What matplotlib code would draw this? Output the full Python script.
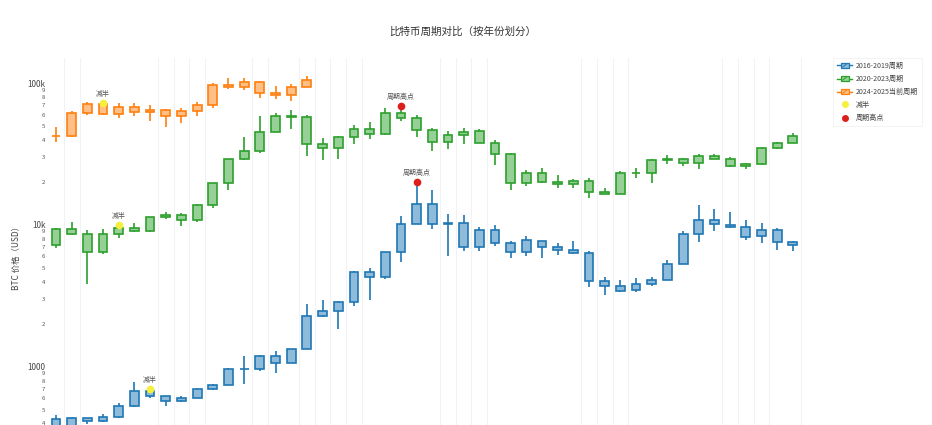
import matplotlib
matplotlib.use("Agg")
import matplotlib.pyplot as plt
import numpy as np
from matplotlib.legend_handler import HandlerBase
from matplotlib.patches import Rectangle
from matplotlib.lines import Line2D
from matplotlib.ticker import LogLocator, FuncFormatter

plt.rcParams['font.family'] = ['Noto Sans CJK SC', 'DejaVu Sans']

# ---- monthly BTC OHLC, cycle 1: 2016-01 .. 2019-12 ----
c1_open = [430, 369, 437, 416, 448, 531, 673, 624, 575, 609, 701, 746,
           964, 971, 1190, 1071, 1348, 2287, 2480, 2875, 4703, 4338, 6468, 10233,
           14112, 10237, 10385, 7003, 9251, 7500, 6411, 7769, 7044, 6619, 6318, 4025,
           3746, 3460, 3853, 4105, 5351, 8573, 10818, 10077, 9630, 8299, 9193, 7571]
c1_high = [462, 448, 439, 467, 554, 778, 705, 627, 628, 714, 753, 979,
           1191, 1211, 1291, 1348, 2763, 2980, 2916, 4770, 4975, 6470, 11517, 20089,
           17712, 11958, 11710, 9745, 9964, 7754, 8424, 7770, 7410, 7680, 6553, 4309,
           4110, 4210, 4296, 5643, 9074, 13796, 12925, 12274, 10898, 10370, 9506, 7743]
c1_low = [350, 366, 394, 412, 436, 526, 606, 533, 570, 604, 691, 746,
          755, 935, 901, 1062, 1348, 2235, 1837, 2670, 2951, 4150, 5519, 10834,
          9402, 6048, 6600, 6526, 7090, 5826, 6071, 5880, 6111, 6205, 3652, 3191,
          3400, 3400, 3734, 4097, 5333, 7564, 9113, 9467, 7830, 7446, 6617, 6540]
c1_close = [369, 437, 416, 448, 531, 673, 624, 575, 609, 701, 746, 964,
            971, 1190, 1071, 1348, 2287, 2480, 2875, 4703, 4338, 6468, 10233, 14156,
            10221, 10397, 6973, 9240, 7494, 6404, 7780, 7037, 6625, 6317, 4017, 3742,
            3457, 3854, 4105, 5351, 8574, 10817, 10086, 9631, 8294, 9199, 7569, 7194]

# ---- cycle 2: 2020-01 .. 2023-12 ----
c2_open = [7194, 9346, 8600, 6438, 8672, 9463, 9145, 11322, 11680, 10796, 13781, 19633,
           28995, 33115, 45160, 58926, 57826, 37294, 35035, 41461, 47100, 43817, 61320, 57001,
           46311, 38481, 43194, 45554, 37713, 31792, 19820, 23336, 20050, 19417, 20495, 17168,
           16548, 23138, 23150, 28478, 29268, 27219, 30472, 29230, 25931, 26967, 34668, 37718]
c2_high = [9553, 10500, 9168, 9440, 10067, 10380, 11435, 12359, 12067, 14029, 19749, 29245,
           41946, 58330, 61683, 64864, 59519, 41295, 42235, 50482, 52853, 66930, 68789, 59041,
           47882, 45661, 48086, 47313, 39845, 31957, 24572, 25135, 22673, 20988, 21446, 18318,
           23920, 25135, 29159, 30977, 29820, 31390, 31815, 30176, 27459, 35150, 38415, 44705]
c2_low = [6915, 8470, 3858, 6202, 8117, 8976, 8977, 10989, 9916, 10416, 13243, 17619,
          28722, 32384, 45115, 47159, 30681, 28806, 29360, 37458, 40191, 43320, 53569, 42000,
          33184, 34459, 37260, 37702, 26350, 17708, 18966, 19600, 18290, 18310, 15599, 16398,
          16521, 21400, 19628, 27070, 25878, 24797, 28934, 25409, 24930, 26560, 34100, 37629]
c2_close = [9350, 8599, 6438, 8658, 9462, 9137, 11323, 11681, 10785, 13781, 19626, 29002,
            33142, 45137, 58919, 57750, 37332, 35041, 41626, 47166, 43791, 61318, 57006, 46306,
            38483, 43194, 45538, 37714, 31792, 19785, 23336, 20050, 19432, 20495, 17168, 16548,
            23139, 23147, 28478, 29268, 27219, 30477, 29230, 25931, 26967, 34668, 37712, 42265]

# ---- cycle 3: 2024-01 .. 2025-05 ----
c3_open = [42280, 42570, 61168, 71334, 60609, 67489, 62673, 64626, 58970, 63335, 70216, 96461,
           93425, 102402, 84373, 82551, 94227]
c3_high = [48969, 63913, 73750, 72715, 71946, 71907, 70000, 65593, 66480, 73577, 99655, 108268,
           109115, 102755, 95043, 97895, 111970]
c3_low = [38555, 41884, 59323, 59121, 56555, 58601, 53717, 49121, 52550, 58896, 66836, 91317,
          89256, 78258, 76607, 74437, 93389]
c3_close = [42582, 61198, 71333, 60637, 67491, 62678, 64619, 58969, 63329, 70215, 96449, 93429,
            102405, 84373, 82548, 94207, 104638]

series_names = ['2016-2019周期', '2020-2023周期', '2024-2025当前周期']
# month index (within each cycle) of the halving and of the cycle top
halving_month = [6, 4, 3]
peak_month = [23, 22]

# ---- styling ----
LINE_COLORS = ['#1f77b4', '#2ca02c', '#ff7f0e']
GRID_X = [0.5, 1.5, 6.5, 7.5, 8.5, 9.5, 12.5, 13.5, 15.5, 16.5, 17.5, 18.5, 19.5,
          24.5, 25.5, 26.5, 27.5, 33.5, 34.5, 35.5, 36.5, 42.5, 43.5, 44.5, 45.5, 47.5]


def lighten(hex_color, frac=0.5):
    rgb = np.array(matplotlib.colors.to_rgb(hex_color))
    return tuple(rgb * (1 - frac) + frac)


W, H = 932, 425
fig = plt.figure(figsize=(W / 100, H / 100), dpi=100)
fig.patch.set_facecolor('white')

# plot area: x from 48px to 820px, y from 58px down to 458px (runs past the bottom edge)
left_px, right_px, top_px, bot_px = 48.2, 820.0, 58.0, 458.0
ax = fig.add_axes([left_px / W, 1 - bot_px / H, (right_px - left_px) / W, (bot_px - top_px) / H])
ax.set_facecolor('white')
ax.set_yscale('log')
ax.set_xlim(-0.5, 48.73)
ax.set_ylim(228.6, 150000)

for gx in GRID_X:
    ax.axvline(gx, color='#f0f2f6', lw=0.8, zorder=0)

cycles = [
    (c1_open, c1_high, c1_low, c1_close),
    (c2_open, c2_high, c2_low, c2_close),
    (c3_open, c3_high, c3_low, c3_close),
]

box_w = 0.56
for (o, h, l, c), col in zip(cycles, LINE_COLORS):
    o, h, l, c = map(np.asarray, (o, h, l, c))
    x = np.arange(len(o))
    lo = np.minimum(o, c)
    hi = np.maximum(o, c)
    ax.vlines(x, l, h, color=col, lw=1.2, zorder=2)
    ax.bar(x, hi - lo, bottom=lo, width=box_w, color=lighten(col, 0.5),
           edgecolor=col, linewidth=1.2, zorder=3)

# halving markers (placed at the halving month's high)
text_kw = dict(textcoords='offset points', ha='center', va='bottom', fontsize=5,
               color='#555555', zorder=6)
for (o, h, l, c), m in zip(cycles, halving_month):
    ax.plot([m], [h[m]], 'o', color='#f6f03c', markersize=4.5, mec='#f6f03c', zorder=5)
    ax.annotate('减半', (m, h[m]), xytext=(0, 3.2), **text_kw)

# cycle top markers
for (o, h, l, c), m in zip(cycles[:2], peak_month):
    ax.plot([m], [h[m]], 'o', color='#dd1f1a', markersize=4.5, zorder=5)
    ax.annotate('周期高点', (m, h[m]), xytext=(0, 3.4), **text_kw)

# axes / ticks
for sp in ax.spines.values():
    sp.set_visible(False)
ax.xaxis.set_visible(False)
ax.yaxis.set_major_locator(LogLocator(base=10, subs=(1.0,)))
ax.yaxis.set_minor_locator(LogLocator(base=10, subs=(2, 3, 4, 5, 6, 7, 8, 9)))


def major_fmt(v, _):
    if v >= 10000:
        return f'{int(round(v / 1000))}k'
    return f'{int(round(v))}'


def minor_fmt(v, _):
    d = v / 10 ** np.floor(np.log10(v) + 1e-9)
    return f'{int(round(d))}'


ax.yaxis.set_major_formatter(FuncFormatter(major_fmt))
ax.yaxis.set_minor_formatter(FuncFormatter(minor_fmt))
ax.tick_params(axis='y', which='major', length=0, pad=2, labelsize=5.8, labelcolor='#444444')
ax.tick_params(axis='y', which='minor', length=0, pad=2, labelsize=4.3, labelcolor='#555555')

# title and axis label
fig.text(463 / W, 1 - 32 / H, '比特币周期对比（按年份划分）', ha='center', va='center',
         fontsize=7.6, color='#333333')
fig.text(16 / W, 1 - 256 / H, 'BTC 价格（USD）', ha='center', va='center', rotation=90,
         fontsize=6, color='#444444')


# legend with candlestick-style icons
class CandleHandler(HandlerBase):
    def __init__(self, color):
        super().__init__()
        self.color = color

    def create_artists(self, legend, orig_handle, xdescent, ydescent, width, height,
                       fontsize, trans):
        cy = height / 2 - ydescent
        line = Line2D([-xdescent, -xdescent + width], [cy, cy], color=self.color,
                      lw=1.0, transform=trans)
        bw = width * 0.5
        x0 = -xdescent + (width - bw) / 2
        rect = Rectangle((x0, cy - height * 0.42), bw, height * 0.84,
                         facecolor=lighten(self.color, 0.5), edgecolor=self.color, lw=0.9,
                         transform=trans)
        diag = Line2D([x0 + bw * 0.25, x0 + bw * 0.75],
                      [cy - height * 0.25, cy + height * 0.25], color=self.color, lw=0.7,
                      transform=trans)
        return [line, rect, diag]


candle_handles = [Rectangle((0, 0), 1, 1) for _ in series_names]
halving_handle = Line2D([], [], marker='o', ls='none', color='#f6f03c', markersize=4)
peak_handle = Line2D([], [], marker='o', ls='none', color='#dd1f1a', markersize=4)
handler_map = {h: CandleHandler(c) for h, c in zip(candle_handles, LINE_COLORS)}

leg = fig.legend(candle_handles + [halving_handle, peak_handle],
                 series_names + ['减半', '周期高点'],
                 handler_map=handler_map,
                 loc='upper left', bbox_to_anchor=(833 / W, 1 - 58 / H),
                 fontsize=5.1, frameon=True, handlelength=2.2, handleheight=0.95,
                 handletextpad=0.45, labelspacing=0.72, borderpad=0.55,
                 borderaxespad=0.0, fancybox=False)
leg.get_frame().set_edgecolor('#f0f0f0')
leg.get_frame().set_linewidth(0.6)
for t in leg.get_texts():
    t.set_color('#444444')

fig.savefig('out.png', dpi=100, facecolor='white')
